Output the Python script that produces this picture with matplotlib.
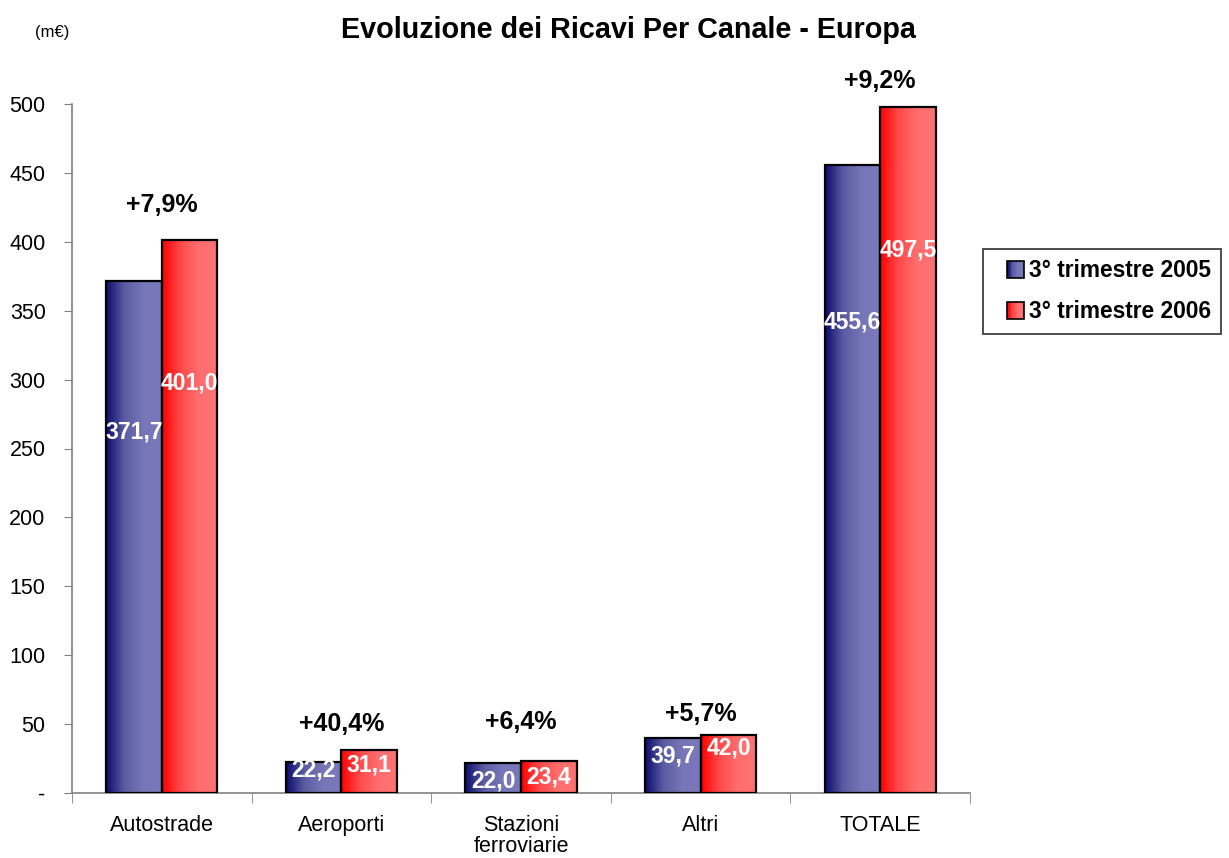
import numpy as np
import matplotlib.pyplot as plt
from matplotlib.colors import LinearSegmentedColormap
from matplotlib.patches import Rectangle
from matplotlib.legend_handler import HandlerBase

plt.rcParams['font.family'] = ['Liberation Sans', 'DejaVu Sans']

# dati
categorie = ['Autostrade', 'Aeroporti', 'Stazioni\nferroviarie', 'Altri', 'TOTALE']
ricavi_2005 = [371.7, 22.2, 22.0, 39.7, 455.6]
ricavi_2006 = [401.0, 31.1, 23.4, 42.0, 497.5]
variazioni = ['+7,9%', '+40,4%', '+6,4%', '+5,7%', '+9,2%']
serie = ['3° trimestre 2005', '3° trimestre 2006']

# posizione verticale delle etichette (come nell'originale Excel)
pos_lab_2005 = [262, 16.7, 8.7, 27, 342]
pos_lab_2006 = [297.5, 20, 11.6, 32.6, 394]
pos_var = [427, 50, 51.5, 57, 517]

blu = LinearSegmentedColormap.from_list('blu', ['#0c0c6e', '#5c5ca2', '#7676b8', '#7878ba'])
rosso = LinearSegmentedColormap.from_list('rosso', ['#ff0000', '#ff4a4a', '#ff6e6e', '#ff7272'])
grad = np.linspace(0, 1, 256).reshape(1, -1)


def fmt(v):
    return f'{v:.1f}'.replace('.', ',')


def barre_sfumate(ax, x, valori, w, cmap):
    for xi, v in zip(x, valori):
        ax.imshow(grad, extent=[xi - w / 2, xi + w / 2, 0, v], aspect='auto',
                  cmap=cmap, zorder=2, interpolation='bilinear')
    ax.bar(x, valori, w, facecolor='none', edgecolor='black', linewidth=1.6, zorder=3)


class HandlerSfumato(HandlerBase):
    # quadratino sfumato allineato a destra nello spazio della handle
    def __init__(self, cmap):
        super().__init__()
        self.cmap = cmap

    def create_artists(self, legend, orig_handle, xdescent, ydescent, width, height, fontsize, trans):
        arts = []
        n = 20
        lato = height * 1.05
        x0 = -xdescent + width - lato
        y0 = -ydescent + (height - lato) / 2
        for i in range(n):
            r = Rectangle((x0 + lato * i / n, y0), lato / n + 0.3, lato,
                          facecolor=self.cmap(i / (n - 1)), edgecolor='none', transform=trans)
            arts.append(r)
        arts.append(Rectangle((x0, y0), lato, lato, facecolor='none',
                              edgecolor='black', linewidth=1.2, transform=trans))
        return arts


fig = plt.figure(figsize=(12.29, 8.58), dpi=100)
ax = fig.add_axes([72 / 1229, 1 - 793 / 858, (970 - 72) / 1229, (793 - 104) / 858])

x = np.arange(len(categorie))
w = 0.31
barre_sfumate(ax, x - w / 2, ricavi_2005, w, blu)
barre_sfumate(ax, x + w / 2, ricavi_2006, w, rosso)

for xi, v, p in zip(x - w / 2, ricavi_2005, pos_lab_2005):
    ax.text(xi, p, fmt(v), ha='center', va='center', color='white', fontsize=16.5,
            fontweight='bold', zorder=4)
for xi, v, p in zip(x + w / 2, ricavi_2006, pos_lab_2006):
    ax.text(xi, p, fmt(v), ha='center', va='center', color='white', fontsize=16.5,
            fontweight='bold', zorder=4)
for xi, t, p in zip(x, variazioni, pos_var):
    ax.text(xi, p, t, ha='center', va='center', fontsize=18, fontweight='bold',
            clip_on=False, zorder=4)

ax.set_xlim(-0.5, len(categorie) - 0.5)
ax.set_ylim(0, 500)
ax.set_yticks(np.arange(0, 501, 50))
ax.set_yticklabels(['-'] + [str(v) for v in range(50, 501, 50)])
ax.set_xticks(x)
ax.set_xticklabels(categorie, linespacing=1.0)
ax.set_xticks(np.arange(-0.5, len(categorie), 1), minor=True)
ax.tick_params(axis='x', which='major', length=0, pad=16, labelsize=15.5)
ax.tick_params(axis='x', which='minor', length=7, direction='out', color='#808080')
ax.tick_params(axis='y', length=6, direction='out', color='#808080', pad=13, labelsize=15.5)

for s in ['top', 'right']:
    ax.spines[s].set_visible(False)
for s in ['left', 'bottom']:
    ax.spines[s].set_color('#808080')
    ax.spines[s].set_linewidth(1.2)

fig.text(628 / 1229, 1 - 30 / 858, 'Evoluzione dei Ricavi Per Canale - Europa',
         ha='center', va='center', fontsize=20.7, fontweight='bold')
fig.text(52 / 1229, 1 - 33 / 858, '(m€)', ha='center', va='center', fontsize=12)

h1 = Rectangle((0, 0), 1, 1)
h2 = Rectangle((0, 0), 1, 1)
leg = fig.legend([h1, h2], serie, loc='upper left',
                 bbox_to_anchor=(983 / 1229, 1 - 249 / 858),
                 handler_map={h1: HandlerSfumato(blu), h2: HandlerSfumato(rosso)},
                 prop={'size': 16.4, 'weight': 'bold'}, fancybox=False,
                 edgecolor='#404040', framealpha=1, handlelength=1.35, handleheight=0.7,
                 handletextpad=0.2, labelspacing=0.8, borderpad=0.45, borderaxespad=0)
leg.get_frame().set_linewidth(1.3)

fig.savefig('out.png', dpi=100)
